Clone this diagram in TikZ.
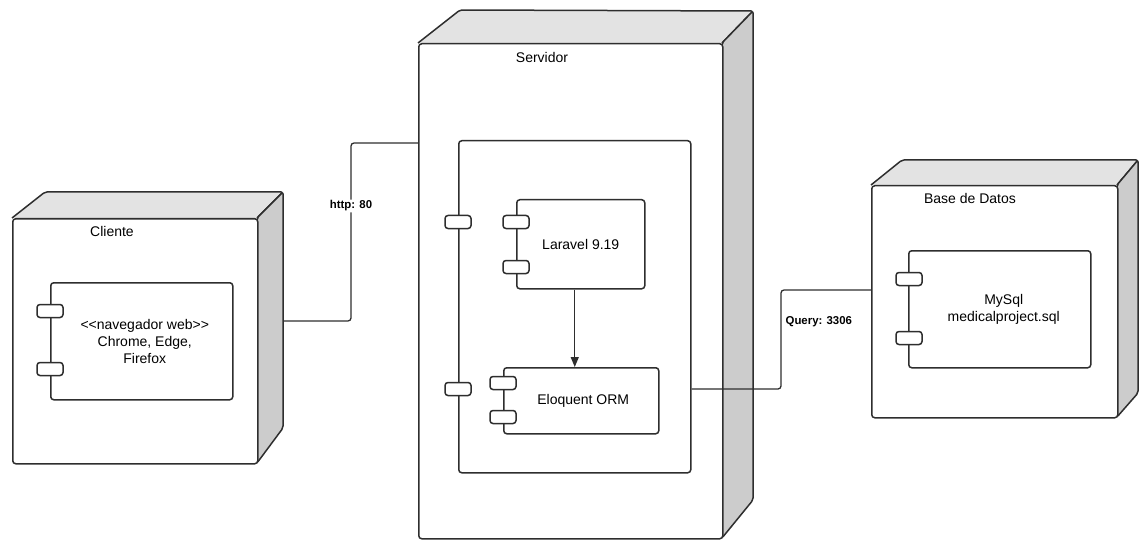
\documentclass[tikz,border=0pt]{standalone}
\usepackage{fontspec}
\setmainfont{Liberation Sans}
\usetikzlibrary{arrows.meta}
\definecolor{ln}{HTML}{2E2E2E}
\definecolor{topc}{HTML}{E3E3E3}
\definecolor{sidec}{HTML}{CCCCCC}
\begin{document}
\begin{tikzpicture}[x=1pt,y=-1pt,
  face/.style={draw=ln, line width=1.5pt, rounded corners=2pt, line join=round},
  front/.style={draw=ln, line width=1.5pt, rounded corners=3pt, fill=white, inner sep=0pt, anchor=north west},
  comp/.style={draw=ln, line width=1.5pt, rounded corners=3pt, fill=white, inner sep=0pt, anchor=north west,
     align=center, font=\fontsize{14}{17}\selectfont},
  port/.style={draw=ln, line width=1.5pt, rounded corners=3pt, fill=white, minimum width=26pt, minimum height=13pt, inner sep=0pt},
  title/.style={font=\fontsize{14}{17}\selectfont, inner sep=0pt},
  conn/.style={draw=ln, line width=1.3pt, rounded corners=3pt},
  lbl/.style={font=\bfseries\fontsize{11.4}{13}\selectfont, inner sep=1pt}
]
\useasboundingbox (0,0) rectangle (1140,540);

% ---------- Cliente node ----------
\fill[topc] (12,218) -- (45,192) -- (283,192) -- (257,218) -- cycle;
\draw[face] (12,218) -- (45,192) -- (283,192) -- (257,218);
\draw[face, fill=sidec] (257,218) -- (283,192) -- (283,428) -- (257,463) -- cycle;
\node[front, minimum width=245pt, minimum height=245pt] (cli) at (12,218) {};
\node[title] (clit) at (112,231) {Cliente};
\node[comp, minimum width=182pt, minimum height=117pt] (nav) at (50,282)
  {\hspace*{6pt}{<}{<}navegador web{>}{>}\\\hspace*{6pt}Chrome, Edge,\\\hspace*{6pt}Firefox};
\node[port] (navp1) at (50,311) {};
\node[port] (navp2) at (50,369) {};

% ---------- Servidor node ----------
\fill[topc] (418,43) -- (460,10) -- (753,11) -- (722,43) -- cycle;
\draw[face] (418,43) -- (460,10) -- (753,11) -- (722,43);
\draw[face, fill=sidec] (722,43) -- (753,11) -- (753,500) -- (722,538) -- cycle;
\node[front, minimum width=304pt, minimum height=495pt] (srv) at (418,43) {};
\node[title] (srvt) at (542,57) {Servidor};
\node[front, minimum width=232pt, minimum height=332pt] (cont) at (458,140) {};
\node[port] (contp1) at (458,222) {};
\node[port] (contp2) at (458,389) {};
\node[comp, minimum width=128pt, minimum height=89pt] (lar) at (516,199) {Laravel 9.19};
\node[port] (larp1) at (516,222) {};
\node[port] (larp2) at (516,267) {};
\node[comp, minimum width=155pt, minimum height=66pt] (elo) at (503,367) {\hspace*{4pt}Eloquent ORM};
\node[port] (elop1) at (503,383) {};
\node[port] (elop2) at (503,417) {};
\draw[draw=ln, line width=1.3pt, -{Triangle[length=10pt,width=8pt]}]
  ([xshift=-6pt]lar.south) -- ([xshift=-6pt]lar.south |- elo.north);

% ---------- Base de Datos node ----------
\fill[topc] (871,185) -- (902,160) -- (1138,160) -- (1117,185) -- cycle;
\draw[face] (871,185) -- (902,160) -- (1138,160) -- (1117,185);
\draw[face, fill=sidec] (1117,185) -- (1138,160) -- (1138,393) -- (1117,417) -- cycle;
\node[front, minimum width=246pt, minimum height=232pt] (db) at (871,185) {};
\node[title] (dbt) at (970,198) {Base de Datos};
\node[comp, minimum width=182pt, minimum height=117pt] (sql) at (908,250)
  {\hspace*{8pt}MySql\\\hspace*{8pt}medicalproject.sql};
\node[port] (sqlp1) at (909,279) {};
\node[port] (sqlp2) at (909,338) {};

% ---------- connectors ----------
\coordinate (cliout) at (283,321);
\coordinate (contout) at (cont.east |- 0,389);
\draw[conn] (cliout) -- (351,321) -- node[lbl, fill=white, pos=0.646] {http: 80} (351,143) -- (srv.west |- 0,143);
\draw[conn] (contout) -- (781,389) -- node[lbl, anchor=west, pos=0.68, xshift=3pt] {Query: 3306} (781,290) -- (db.west |- 0,290);
\end{tikzpicture}
\end{document}
